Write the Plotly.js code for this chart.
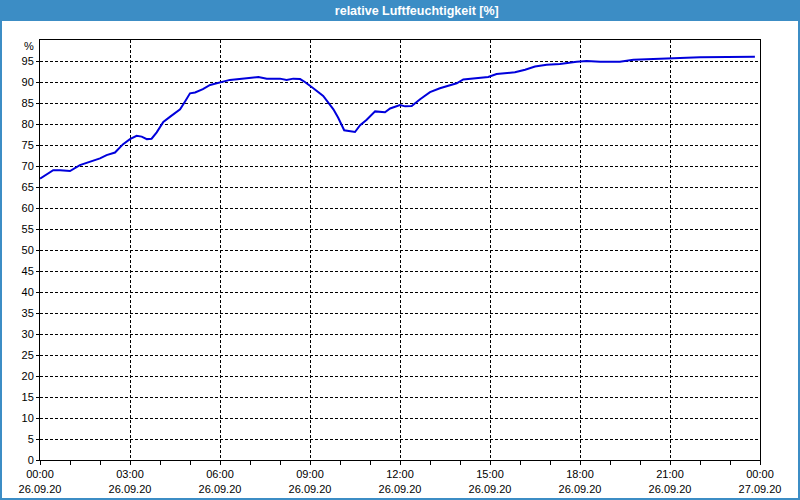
<!DOCTYPE html>
<html>
<head>
<meta charset="utf-8">
<script src="https://cdn.plot.ly/plotly-3.0.1.min.js"></script>
<style>
html,body{margin:0;padding:0;background:#fff;}
#chart{width:800px;height:500px;}
</style>
</head>
<body>
<div id="chart"></div>
<script>
// hours after 26.09.20 00:00
const hours = [0, 0.25, 0.44, 0.67, 1.0, 1.33, 1.67, 2.0, 2.22, 2.5, 2.77, 3.0, 3.22, 3.39, 3.56, 3.72, 3.89, 4.11, 4.33, 4.67, 4.83, 5.0, 5.17, 5.43, 5.67, 6.0, 6.33, 6.89, 7.28, 7.56, 8.0, 8.22, 8.44, 8.67, 8.83, 9.11, 9.44, 9.78, 9.94, 10.14, 10.33, 10.5, 10.67, 10.89, 11.17, 11.5, 11.67, 12.0, 12.17, 12.39, 12.67, 13.0, 13.33, 13.67, 13.89, 14.11, 14.56, 14.94, 15.22, 15.83, 16.17, 16.5, 16.89, 17.33, 17.89, 18.22, 18.67, 19.33, 19.78, 20.89, 22.0, 23.83];
const humidity = [67.0, 68.2, 69.0, 69.0, 68.8, 70.2, 71.0, 71.8, 72.6, 73.2, 75.2, 76.4, 77.2, 77.0, 76.4, 76.5, 78.0, 80.5, 81.7, 83.5, 85.3, 87.3, 87.5, 88.3, 89.3, 89.9, 90.5, 90.9, 91.2, 90.8, 90.8, 90.5, 90.8, 90.7, 90.0, 88.5, 86.7, 83.5, 81.5, 78.5, 78.3, 78.1, 79.7, 81.0, 83.0, 82.8, 83.7, 84.5, 84.2, 84.3, 85.9, 87.6, 88.5, 89.3, 89.7, 90.6, 91.0, 91.2, 91.9, 92.3, 92.9, 93.7, 94.1, 94.3, 94.8, 95.0, 94.8, 94.8, 95.3, 95.6, 95.9, 96.0];
const xTickVals = [0, 3, 6, 9, 12, 15, 18, 21, 24];
const xTickText = ["00:00<br>26.09.20", "03:00<br>26.09.20", "06:00<br>26.09.20", "09:00<br>26.09.20", "12:00<br>26.09.20", "15:00<br>26.09.20", "18:00<br>26.09.20", "21:00<br>26.09.20", "00:00<br>27.09.20"];
const yTickVals = [0,5,10,15,20,25,30,35,40,45,50,55,60,65,70,75,80,85,90,95];
const titleText = "relative Luftfeuchtigkeit [%]";
const yUnit = "%";

const blue = '#3c8dc5';
const font = {family: 'Liberation Sans, Arial, sans-serif', size: 11, color: '#000'};

const trace = {
  x: hours, y: humidity, type: 'scatter', mode: 'lines',
  line: {color: '#0000dc', width: 2}, hoverinfo: 'skip'
};

const layout = {
  width: 800, height: 500,
  margin: {l: 40, r: 40, t: 40, b: 40, pad: 0},
  paper_bgcolor: '#ffffff', plot_bgcolor: '#ffffff',
  showlegend: false,
  font: font,
  title: {text: '<b>' + titleText + '</b>', x: 0.521, xref: 'container', xanchor: 'center',
          y: 0.979, yref: 'container', yanchor: 'middle',
          font: {family: 'Liberation Sans, Arial, sans-serif', size: 12.5, color: '#ffffff'}},
  xaxis: {
    range: [0, 24], tickmode: 'array', tickvals: xTickVals, ticktext: xTickText,
    showline: true, linecolor: '#000', linewidth: 1, mirror: true,
    ticks: 'outside', ticklen: 4, tickcolor: '#000', tickwidth: 1,
    showgrid: true, gridcolor: '#000', gridwidth: 1, griddash: '3px,2px',
    minor: {dtick: 1, ticks: 'outside', ticklen: 4, tickcolor: '#000', showgrid: false},
    zeroline: false, tickfont: font, fixedrange: true
  },
  yaxis: {
    range: [0, 100], tickmode: 'array', tickvals: yTickVals,
    showline: true, linecolor: '#000', linewidth: 1, mirror: true,
    ticks: 'outside', ticklen: 3, tickcolor: '#000',
    showgrid: true, gridcolor: '#000', gridwidth: 1, griddash: '3px,2px',
    zeroline: false, tickfont: font, fixedrange: true
  },
  shapes: [
    {type: 'rect', xref: 'paper', yref: 'paper', x0: -40/720, x1: 760/720, y0: (460-21)/420, y1: 460/420,
     fillcolor: blue, line: {width: 0}, layer: 'below'},
    {type: 'rect', xref: 'paper', yref: 'paper', x0: (1-40)/720, x1: (799-40)/720, y0: (460-499)/420, y1: 460/420,
     fillcolor: 'rgba(0,0,0,0)', line: {width: 2, color: blue}, layer: 'below'}
  ],
  annotations: [
    {text: yUnit, xref: 'paper', yref: 'paper', x: (36-40)/720, y: (460-46)/420, xanchor: 'right', yanchor: 'middle',
     showarrow: false, font: font}
  ]
};

Plotly.newPlot('chart', [trace], layout, {displayModeBar: false, staticPlot: true});
</script>
</body>
</html>
